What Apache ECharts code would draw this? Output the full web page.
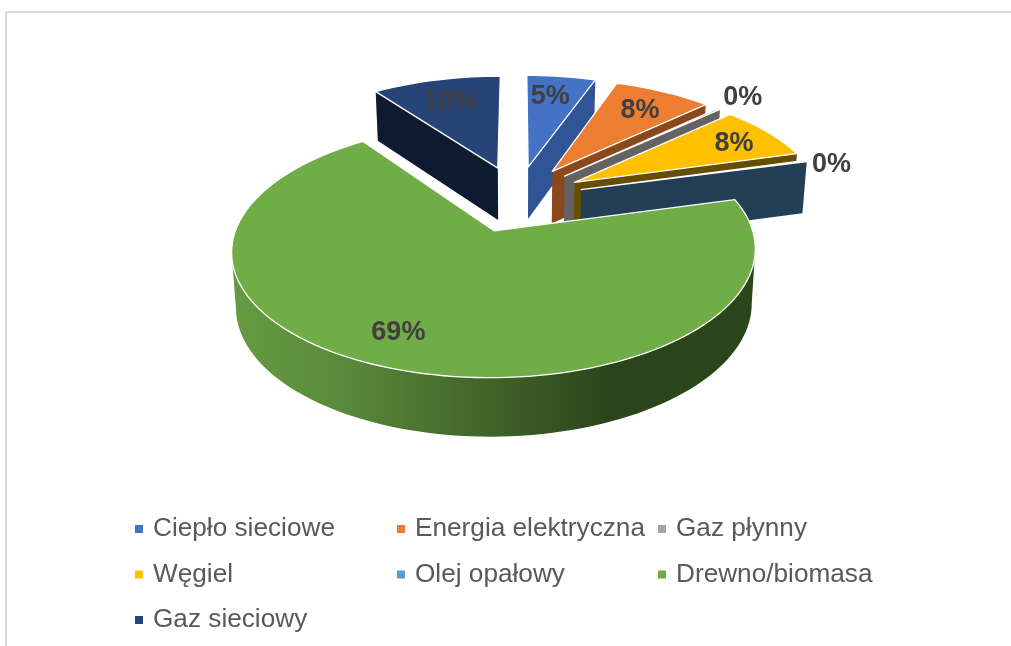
<!DOCTYPE html>
<html>
<head>
<meta charset="utf-8">
<style>
  html, body { margin: 0; padding: 0; background: #fff; }
  #chart { width: 1011px; height: 646px; }
</style>
</head>
<body>
<div id="chart"></div>
<script src="https://cdn.jsdelivr.net/npm/echarts@6/dist/echarts.min.js"></script>
<script>
const categories = ["Ciepło sieciowe", "Energia elektryczna", "Gaz płynny", "Węgiel", "Olej opałowy", "Drewno/biomasa", "Gaz sieciowy"];
const shares = [5.3, 7.5, 0.2, 7.6, 0.2, 69.3, 9.9];
const topColors = ["#4472C4", "#ED7D31", "#A5A5A5", "#FFC000", "#5B9BD5", "#70AD47", "#264478"];
const wallColors = ["#2F5597", "#8A481C", "#636363", "#664D00", "#223F56", "#2B451B", "#0E1A30"];
// Excel's best-fit label spots, relative to each slice's own tip
const labelRadius = [0.77, 0.77, 1.2, 0.81, 1.1, 0.78, 0.76];
const labelTurn = [-1.5, 0, -1, 0.5, 2, 4.5, 0.3];

// projection of the tilted pie
const view = { cx: 517.5, cy: 198.3, rx: 248, ry: 114, persp: 0.15, depth: 53, taper: 0.015 };
const explode = { u: 0.27, v: 0.29 };
const labelDrop = 2;
const rad = (deg) => (deg * Math.PI) / 180;

const project = (u, v, z) => {
  const w = 1 - view.persp * v;
  return [
    view.cx + (view.rx * u * (1 - view.taper * z)) / w,
    view.cy + (view.ry * v) / w + (view.depth * z) / Math.sqrt(w),
  ];
};

const total = shares.reduce((sum, value) => sum + value, 0);
let running = 0;
const slices = shares.map((value) => {
  const start = (running / total) * 360;
  running += value;
  const end = (running / total) * 360;
  const mid = (start + end) / 2;
  return { start, end, mid, u0: explode.u * Math.sin(rad(mid)), v0: -explode.v * Math.cos(rad(mid)) };
});

const rimPoint = (slice, deg, z) =>
  project(slice.u0 + Math.sin(rad(deg)), slice.v0 - Math.cos(rad(deg)), z);

const arcPoints = (slice, from, to, z) => {
  const steps = Math.max(2, Math.ceil((to - from) / 2));
  const points = [];
  for (let i = 0; i <= steps; i++) {
    points.push(rimPoint(slice, from + ((to - from) * i) / steps, z));
  }
  return points;
};

// keep the stretch of an arc between its left and right extremes
const trimToWidest = (points) => {
  const xs = points.map((point) => point[0]);
  const right = xs.indexOf(Math.max(...xs));
  const left = xs.indexOf(Math.min(...xs));
  return points.slice(right, left + 1);
};

const greenWall = new echarts.graphic.LinearGradient(0, 0, 1, 0, [
  { offset: 0, color: "#659B42" },
  { offset: 0.2, color: "#5A8B3B" },
  { offset: 0.45, color: "#44692B" },
  { offset: 0.72, color: "#2B451B" },
  { offset: 1, color: "#2B451B" },
]);

function renderSlice(index) {
  const slice = slices[index];
  const tipTop = project(slice.u0, slice.v0, 0);
  const tipBottom = project(slice.u0, slice.v0, 1);
  const children = [];

  // outer wall, only the part that faces the viewer
  const from = Math.max(slice.start, 80);
  const to = Math.min(slice.end, 280);
  if (to > from) {
    const upper = trimToWidest(arcPoints(slice, from, to, 0));
    const lower = trimToWidest(arcPoints(slice, from, to, 1));
    children.push({
      type: "polygon",
      shape: { points: upper.concat(lower.reverse()) },
      style: { fill: index === 5 ? greenWall : wallColors[index] },
    });
  }

  // cut faces
  [slice.start, slice.end].forEach((deg) => {
    // the far cut of a slice is hidden behind its own top, so skip it when it faces away
    const facesViewer = deg === slice.start ? deg > 180 : deg < 180;
    if (!facesViewer) return;
    children.push({
      type: "polygon",
      shape: { points: [tipTop, rimPoint(slice, deg, 0), rimPoint(slice, deg, 1), tipBottom] },
      style: { fill: wallColors[index] },
    });
  });

  children.push({
    type: "polygon",
    shape: { points: [tipTop].concat(arcPoints(slice, slice.start, slice.end, 0)) },
    style: { fill: topColors[index], stroke: "#fff", lineWidth: 1.3, lineJoin: "round" },
  });

  const labelDeg = slice.mid + labelTurn[index];
  const labelAt = project(
    slice.u0 + labelRadius[index] * Math.sin(rad(labelDeg)),
    slice.v0 - labelRadius[index] * Math.cos(rad(labelDeg)),
    0
  );
  children.push({
    type: "text",
    style: {
      x: labelAt[0],
      y: labelAt[1] + labelDrop,
      text: `${Math.round(shares[index])}%`,
      fill: "#404040",
      font: 'bold 27px "Liberation Sans", Arial, sans-serif',
      align: "center",
      verticalAlign: "middle",
    },
  });

  return { type: "group", children };
}

const legendColumns = [
  { left: 135, names: [categories[0], categories[3], categories[6]] },
  { left: 397, names: [categories[1], categories[4]] },
  { left: 658, names: [categories[2], categories[5]] },
];

const chart = echarts.init(document.getElementById("chart"), null, { renderer: "canvas" });
chart.setOption({
  animation: false,
  backgroundColor: "#fff",
  legend: legendColumns.map((column) => ({
    orient: "vertical",
    left: column.left,
    top: 516,
    padding: 0,
    itemGap: 19.5,
    itemWidth: 8,
    itemHeight: 8,
    icon: "rect",
    selectedMode: false,
    data: column.names,
    textStyle: {
      color: "#595959",
      fontSize: 26.2,
      fontFamily: '"Liberation Sans", Arial, sans-serif',
      padding: [0, 0, 0, 5],
    },
  })),
  graphic: [
    { type: "line", silent: true, shape: { x1: 6, y1: 12, x2: 1011, y2: 12 }, style: { stroke: "#D9D9D9", lineWidth: 2 } },
    { type: "line", silent: true, shape: { x1: 6, y1: 12, x2: 6, y2: 646 }, style: { stroke: "#D9D9D9", lineWidth: 2 } },
  ],
  series: categories.map((name, index) => ({
    type: "custom",
    name,
    coordinateSystem: "none",
    silent: true,
    clip: false,
    itemStyle: { color: topColors[index] },
    data: [shares[index]],
    renderItem: () => renderSlice(index),
  })),
});
</script>
</body>
</html>
